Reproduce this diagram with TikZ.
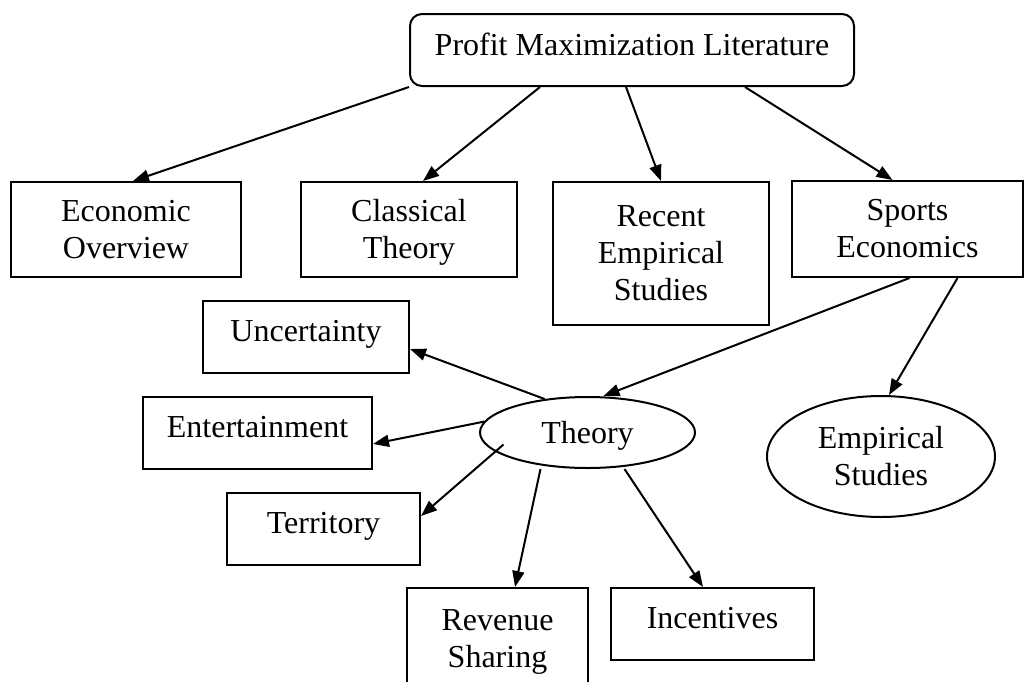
\documentclass[tikz,border=0pt]{standalone}
\usepackage{fontspec}
\setmainfont{Liberation Serif}
\usetikzlibrary{arrows.meta,shapes.geometric,calc}
\begin{document}
\begin{tikzpicture}[x=1pt,y=-1pt,line width=2pt,
  every node/.style={font=\fontsize{32}{37}\selectfont, inner sep=0pt},
  box/.style={draw, rectangle, align=center},
  one/.style={text height=21pt, text depth=13pt},
  oval/.style={draw, ellipse, align=center},
  arr/.style={line width=2pt, -{Triangle[length=16pt,width=12pt]}}]
\path[use as bounding box] (0,0) rectangle (1026,681);
\clip (0,0) rectangle (1026,681);

\node[box, rounded corners=12pt, minimum width=444pt, minimum height=72pt, text height=21pt, text depth=11pt] (top) at (632,50) {Profit Maximization Literature};
\node[box, minimum width=230pt, minimum height=95pt] (eco) at (126,229.5) {Economic\\Overview};
\node[box, minimum width=216pt, minimum height=95pt] (cla) at (409,229.5) {Classical\\Theor\smash{y}};
\node[box, minimum width=216pt, minimum height=143pt] (rec) at (661,253.5) {Recent\\Empirical\\Studies};
\node[box, minimum width=231pt, minimum height=96pt] (spo) at (907.5,229) {Sports\\Economics};
\node[box, one, minimum width=206pt, minimum height=72pt] (unc) at (306,337) {Uncertainty};
\node[box, one, minimum width=229pt, minimum height=72pt] (ent) at (257.5,433) {Entertainment};
\node[box, one, minimum width=193pt, minimum height=72pt] (ter) at (323.5,529) {Territory};
\node[oval, minimum width=215pt, minimum height=71pt, text depth=0pt] (the) at (587.5,432.5) {Theory};
\node[oval, minimum width=228pt, minimum height=121pt] (emp) at (881,456.5) {Empirical\\Studies};
\node[box, minimum width=181pt, minimum height=108pt] (rev) at (497.5,642) {Revenue\\Sharing};
\node[box, one, minimum width=203pt, minimum height=72pt] (inc) at (712.5,624) {Incentives};

\draw[arr] (top.south west) -- ([xshift=7pt]eco.north);
\draw[arr] ([xshift=-92pt]top.south) -- ([xshift=14pt]cla.north);
\draw[arr] ([xshift=-6pt]top.south) -- (rec.north);
\draw[arr] ([xshift=113pt]top.south) -- ([xshift=-15pt]spo.north);
\draw[arr] ([xshift=2pt]spo.south) -- ([xshift=16pt]the.north);
\draw[arr] ([xshift=50pt]spo.south) -- ([xshift=8pt]emp.north);
\draw[arr] (the.142) -- ([yshift=-12pt]unc.east);
\draw[arr] (the.174) -- ([yshift=-11pt]ent.east);
\draw[arr] ([shift={(-84pt,-12pt)}]the.center) -- ([yshift=13pt]ter.east);
\draw[arr] ([xshift=-47pt]the.south) -- ([xshift=17.5pt]rev.north);
\draw[arr] ([xshift=37pt]the.south) -- ([xshift=-9.5pt]inc.north);
\end{tikzpicture}
\end{document}
